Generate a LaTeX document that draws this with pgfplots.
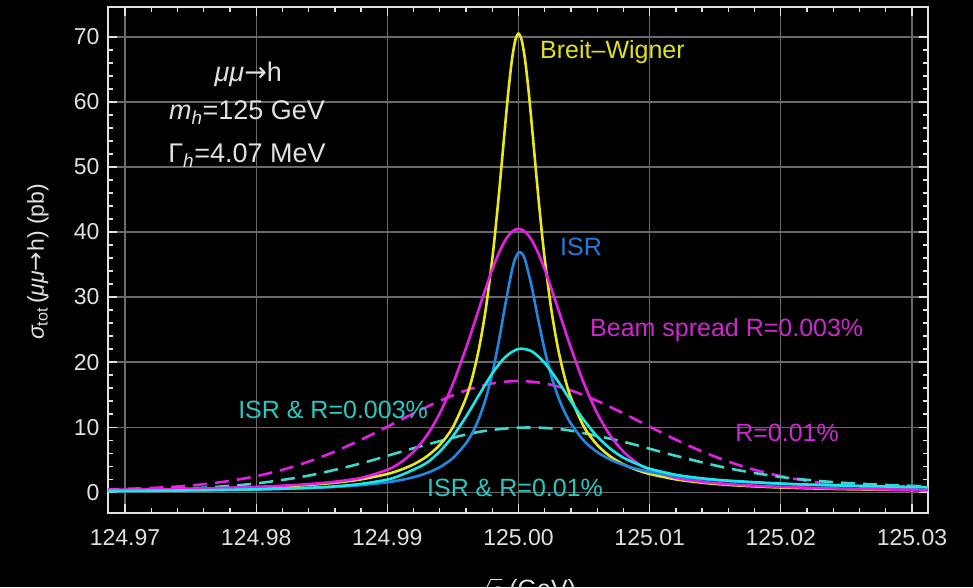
\documentclass[border=0pt]{standalone}
\usepackage{fontspec}
\setmainfont{Liberation Sans}
\newfontfamily\symfont{DejaVu Sans}
\usepackage{pgfplots}
\pgfplotsset{compat=1.18}
\definecolor{cyel}{RGB}{232,232,26}
\definecolor{cmag}{RGB}{228,30,228}
\definecolor{cblue}{RGB}{30,136,229}
\definecolor{ccyan}{RGB}{25,232,232}
\definecolor{ccyand}{RGB}{60,215,205}
\definecolor{lmag}{RGB}{205,40,205}
\definecolor{lteal}{RGB}{40,200,195}
\definecolor{lblue}{RGB}{30,125,220}
\definecolor{lyel}{RGB}{225,225,30}
\definecolor{fg}{RGB}{225,225,225}
\definecolor{gridc}{RGB}{105,105,105}
\begin{document}
\begin{tikzpicture}
\fill[black] (-108pt,-74pt) rectangle (865pt,513pt);
\begin{axis}[
  at={(0pt,0pt)}, anchor=south west,
  scale only axis, width=820pt, height=506pt,
  xmin=124.968704, xmax=125.03122, ymin=-3.2, ymax=74.6,
  xtick={124.97,124.98,124.99,125.00,125.01,125.02,125.03},
  xticklabels={124.97,124.98,124.99,125.00,125.01,125.02,125.03},
  scaled x ticks=false,
  ytick={0,10,20,30,40,50,60,70},
  minor x tick num=4, minor y tick num=4,
  tick align=inside,
  major tick length=9pt, minor tick length=5pt,
  every tick/.style={fg, line width=1.3pt},
  axis line style={fg, line width=2.2pt},
  grid=major, major grid style={gridc, line width=1.3pt},
  ticklabel style={fg, font=\fontsize{23}{27}\selectfont},
  xticklabel style={yshift=-13pt},
  yticklabel style={xshift=-5pt},
  /pgf/number format/assume math mode=true,
]
% R=0.01% (beam spread)
\addplot[cmag, line width=2.6pt, dash pattern=on 14pt off 8pt, smooth] coordinates {
(124.9685,0.41) (124.972,0.65) (124.974,0.88) (124.976,1.23) (124.978,1.74) (124.980,2.46) (124.982,3.44) (124.984,4.70) (124.986,6.26) (124.988,8.07) (124.990,10.07) (124.992,12.12) (124.994,14.04) (124.996,15.65) (124.998,16.72) (125.000,17.1) (125.002,16.72) (125.004,15.65) (125.006,14.04) (125.008,12.12) (125.010,10.07) (125.012,8.07) (125.014,6.26) (125.016,4.70) (125.018,3.44) (125.020,2.46) (125.022,1.74) (125.024,1.23) (125.026,0.88) (125.028,0.65) (125.0315,0.41)};
% ISR & R=0.01%
\addplot[ccyand, line width=2.6pt, dash pattern=on 14pt off 8pt, smooth] coordinates {
(124.9685,0.27) (124.972,0.40) (124.976,0.69) (124.980,1.343) (124.984,2.551) (124.988,4.435) (124.992,6.767) (124.996,8.874) (124.998,9.573) (125.000,9.919) (125.002,9.875) (125.004,9.453) (125.008,7.753) (125.012,5.586) (125.016,3.672) (125.020,2.337) (125.024,1.545) (125.028,1.113) (125.0315,0.88)};
% Breit-Wigner
\addplot[cyel, line width=2.6pt, smooth] coordinates {
(124.9685,0.29) (124.972,0.37) (124.976,0.50) (124.980,0.72) (124.982,0.89) (124.984,1.12) (124.986,1.46) (124.988,1.97) (124.990,2.80) (124.991,3.43) (124.992,4.28) (124.993,5.49) (124.994,7.27) (124.995,10.02) (124.996,14.50) (124.9965,17.81) (124.997,22.22) (124.9975,28.10) (124.998,35.86) (124.99825,40.53) (124.9985,45.68) (124.99875,51.19) (124.999,56.79) (124.99925,62.07) (124.9995,66.49) (124.99975,69.45) (125.000,70.5) (125.00025,69.45) (125.0005,66.49) (125.00075,62.07) (125.001,56.79) (125.00125,51.19) (125.0015,45.68) (125.00175,40.53) (125.002,35.86) (125.0025,28.10) (125.003,22.22) (125.0035,17.81) (125.004,14.50) (125.005,10.02) (125.006,7.27) (125.007,5.49) (125.008,4.28) (125.009,3.43) (125.010,2.80) (125.012,1.97) (125.014,1.46) (125.016,1.12) (125.018,0.89) (125.020,0.72) (125.024,0.50) (125.028,0.37) (125.0315,0.29)};
% Beam spread R=0.003%
\addplot[cmag, line width=2.6pt, smooth] coordinates {
(124.9685,0.34) (124.972,0.43) (124.976,0.58) (124.980,0.82) (124.982,1.00) (124.984,1.25) (124.986,1.61) (124.988,2.21) (124.990,3.44) (124.991,4.55) (124.992,6.23) (124.993,8.70) (124.994,12.14) (124.995,16.67) (124.996,22.17) (124.9965,25.20) (124.997,28.29) (124.9975,31.35) (124.998,34.24) (124.9985,36.77) (124.999,38.77) (124.9995,40.06) (125.000,40.5) (125.0005,40.06) (125.001,38.77) (125.0015,36.77) (125.002,34.24) (125.0025,31.35) (125.003,28.29) (125.0035,25.20) (125.004,22.17) (125.005,16.67) (125.006,12.14) (125.007,8.70) (125.008,6.23) (125.009,4.55) (125.010,3.44) (125.012,2.21) (125.014,1.61) (125.016,1.25) (125.018,1.00) (125.020,0.82) (125.024,0.58) (125.028,0.43) (125.0315,0.34)};
% ISR
\addplot[cblue, line width=2.6pt, smooth] coordinates {
(124.9685,0.171) (124.972,0.215) (124.976,0.289) (124.980,0.411) (124.982,0.502) (124.984,0.629) (124.986,0.811) (124.988,1.086) (124.990,1.528) (124.991,1.857) (124.992,2.305) (124.993,2.934) (124.994,3.852) (124.995,5.258) (124.996,7.527) (124.9965,9.208) (124.997,11.419) (124.9975,14.367) (124.998,18.264) (124.9985,23.217) (124.999,28.905) (124.9995,34.12) (124.99975,35.92) (125.000,36.83) (125.00025,36.75) (125.0005,35.73) (125.001,31.648) (125.0015,26.561) (125.002,21.804) (125.0025,17.886) (125.003,14.787) (125.0035,12.402) (125.004,10.533) (125.005,7.871) (125.006,6.175) (125.007,5.020) (125.008,4.196) (125.009,3.586) (125.010,3.120) (125.012,2.456) (125.014,2.014) (125.016,1.701) (125.018,1.470) (125.020,1.292) (125.024,1.038) (125.028,0.867) (125.0315,0.757)};
% ISR & R=0.003%
\addplot[ccyan, line width=2.6pt, smooth] coordinates {
(124.9685,0.175) (124.972,0.22) (124.976,0.30) (124.980,0.433) (124.984,0.68) (124.986,0.90) (124.988,1.28) (124.990,1.936) (124.991,2.59) (124.992,3.461) (124.993,4.516) (124.994,6.249) (124.995,8.620) (124.996,11.608) (124.997,14.980) (124.998,18.254) (124.999,20.794) (125.000,22.026) (125.001,21.670) (125.002,19.864) (125.003,17.095) (125.004,13.978) (125.005,11.037) (125.006,8.576) (125.007,6.683) (125.008,5.301) (125.009,4.37) (125.010,3.605) (125.012,2.68) (125.014,2.13) (125.016,1.78) (125.020,1.327) (125.024,1.06) (125.028,0.878) (125.0315,0.765)};
% annotations
\node[anchor=west, text=lyel, font=\fontsize{25}{30}\selectfont, inner sep=0pt] at (axis cs:125.00164,67.7) {Breit\textendash Wigner};
\node[anchor=west, text=lblue, font=\fontsize{25}{30}\selectfont, inner sep=0pt] at (axis cs:125.00316,37.7) {ISR};
\node[anchor=west, text=lmag, font=\fontsize{25}{30}\selectfont, inner sep=0pt] at (axis cs:125.00545,24.9) {Beam spread R=0.003\%};
\node[anchor=west, text=lmag, font=\fontsize{25}{30}\selectfont, inner sep=0pt] at (axis cs:125.01651,9.1) {R=0.01\%};
\node[anchor=west, text=lteal, font=\fontsize{25}{30}\selectfont, inner sep=0pt] at (axis cs:124.97862,12.6) {ISR \& R=0.003\%};
\node[anchor=west, text=lteal, font=\fontsize{25}{30}\selectfont, inner sep=0pt] at (axis cs:124.99302,0.6) {ISR \& R=0.01\%};
\node[text=fg, font=\fontsize{27}{32}\selectfont, inner sep=0pt] at (axis cs:124.9794,64.3) {{\itshape μμ}{\symfont →}h};
\node[text=fg, font=\fontsize{27}{32}\selectfont, inner sep=0pt] at (axis cs:124.9793,58.4) {{\itshape m\textsubscript{h}}=125 GeV};
\node[text=fg, font=\fontsize{27}{32}\selectfont, inner sep=0pt] at (axis cs:124.9793,51.8) {Γ\textsubscript{\itshape h}=4.07 MeV};
\end{axis}
\node[rotate=90, text=fg, font=\fontsize{23}{27}\selectfont, inner sep=0pt] at (-70pt,251pt) {{\itshape σ}\textsubscript{tot}\,({\itshape μμ}{\symfont →}h) (pb)};
\node[anchor=north west, text=fg, font=\fontsize{25}{30}\selectfont, inner sep=0pt] at (362pt,-65pt) {$\sqrt{s}$ (GeV)};
\pgfresetboundingbox
\path[use as bounding box] (-108pt,-74pt) rectangle (865pt,513pt);
\end{tikzpicture}
\end{document}
